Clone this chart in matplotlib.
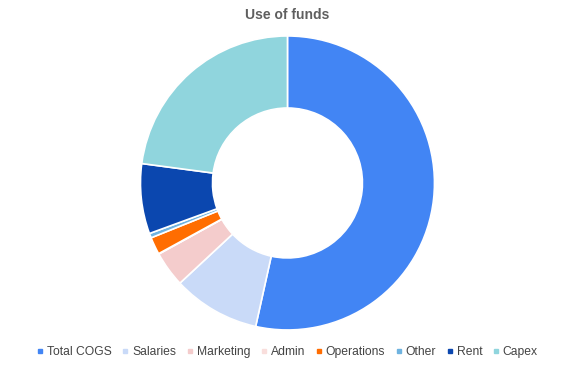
import matplotlib
matplotlib.use("Agg")
import matplotlib.pyplot as plt
from matplotlib.lines import Line2D

categories = ["Total COGS", "Salaries", "Marketing", "Admin", "Operations", "Other", "Rent", "Capex"]
values = [53.5, 9.6, 3.9, 0.05, 1.9, 0.5, 7.7, 22.9]
colors = ["#4285f4", "#c9daf8", "#f4cccc", "#f9dedc", "#ff6d01", "#6fb3e0", "#0b47af", "#90d5dd"]
title = "Use of funds"

plt.rcParams['font.family'] = ['Liberation Sans', 'DejaVu Sans']

fig = plt.figure(figsize=(5.75, 3.68), dpi=100)
ax = fig.add_axes([0.2443, 0.1033, 0.5113, 0.799])
ax.pie(values, colors=colors, startangle=90, counterclock=False, radius=1.0,
       wedgeprops=dict(width=0.49, edgecolor="white", linewidth=1.2))
ax.set_xlim(-1, 1)
ax.set_ylim(-1, 1)
ax.set_aspect("equal")
ax.axis("off")

fig.text(0.5, 1 - 15 / 368, title, ha="center", va="center", fontsize=10,
         fontweight="bold", color="#5f5f5f")

handles = [Line2D([0], [0], marker="s", linestyle="none", markersize=3.5,
                  markerfacecolor=c, markeredgecolor=c) for c in colors]
fig.legend(handles, categories, loc="center", bbox_to_anchor=(0.5, 1 - 352 / 368),
           ncol=len(categories), frameon=False, fontsize=8.7, handlelength=0.5,
           handletextpad=0.3, columnspacing=0.9, labelcolor="#444444")

fig.savefig("out.png", dpi=100, facecolor="white")
